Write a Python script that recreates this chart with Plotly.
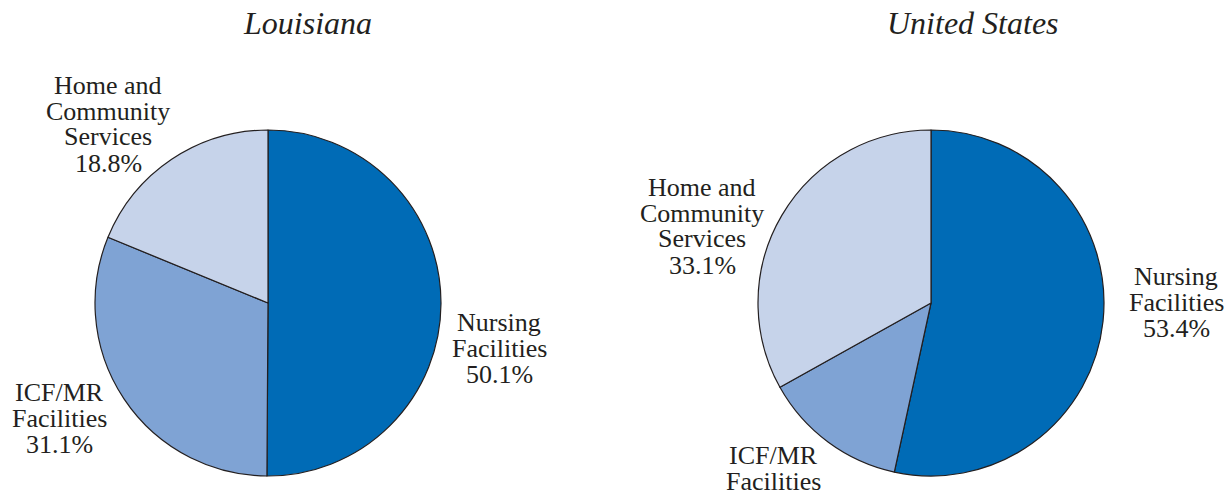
import plotly.graph_objects as go

# Data
categories = ["Nursing Facilities", "ICF/MR Facilities", "Home and Community Services"]
louisiana_values = [50.1, 31.1, 18.8]
us_values = [53.4, 13.5, 33.1]
titles = ["Louisiana", "United States"]
colors = ["#006BB6", "#7FA3D4", "#C6D3EA"]

# Label line breaks (display text)
label_lines = {
    "Nursing Facilities": ["Nursing", "Facilities"],
    "ICF/MR Facilities": ["ICF/MR", "Facilities"],
    "Home and Community Services": ["Home and", "Community", "Services"],
}

W, H = 1225, 493
FONT = "Liberation Serif"

def domain(cx, cy, r):
    return dict(x=[(cx - r) / W, (cx + r) / W], y=[(H - cy - r) / H, (H - cy + r) / H])

fig = go.Figure()
pies = [
    (louisiana_values, domain(268, 303, 173)),
    (us_values, domain(931, 303, 173)),
]
for vals, dom in pies:
    fig.add_trace(go.Pie(
        labels=categories, values=vals, sort=False, direction="clockwise",
        rotation=0, textinfo="none", hoverinfo="label+percent",
        marker=dict(colors=colors, line=dict(color="#231F20", width=1.2)),
        domain=dom, showlegend=False,
    ))

annotations = []
# Titles
for t, cx in zip(titles, [307, 973]):
    annotations.append(dict(text="<i>" + t + "</i>", x=cx / W, y=1 - 23 / H,
                            xref="paper", yref="paper",
                            xanchor="center", yanchor="middle", showarrow=False,
                            font=dict(family=FONT, size=32, color="#231F20")))

# label positions (center x, first-line y) per pie, per category
label_pos = [
    {"Nursing Facilities": (499, 322), "ICF/MR Facilities": (59, 392),
     "Home and Community Services": (108, 85)},
    {"Nursing Facilities": (1176, 276), "ICF/MR Facilities": (773, 455),
     "Home and Community Services": (702, 187)},
]
line_h = 26
for vals, pos in zip([louisiana_values, us_values], label_pos):
    for cat, v in zip(categories, vals):
        lines = label_lines[cat] + [f"{v:.1f}%"]
        cx, y0 = pos[cat]
        for i, ln in enumerate(lines):
            annotations.append(dict(text=ln, x=cx / W, y=1 - (y0 + i * line_h) / H,
                                    xref="paper", yref="paper", xanchor="center",
                                    yanchor="middle", showarrow=False,
                                    font=dict(family=FONT, size=26, color="#231F20")))

fig.update_layout(
    width=W, height=H, margin=dict(l=0, r=0, t=0, b=0),
    paper_bgcolor="white", plot_bgcolor="white",
    annotations=annotations,
)
fig.write_html("out.html", config={"displayModeBar": False},
               post_script="document.body.style.margin='0';")
